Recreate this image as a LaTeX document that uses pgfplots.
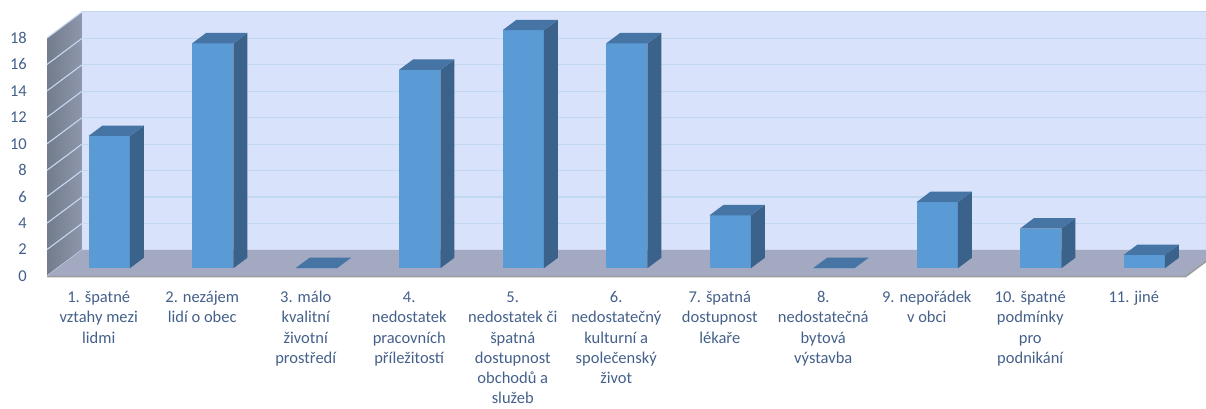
\documentclass[border=0pt]{standalone}
\usepackage{pgfplots}
\pgfplotsset{compat=1.18}
\usepackage{pgfplotstable}
\usepackage{fontspec}
\setmainfont{Carlito}
\definecolor{barfront}{HTML}{5B9BD5}
\definecolor{barside}{HTML}{3A628A}
\definecolor{bartop}{HTML}{4674A4}
\definecolor{backwall}{HTML}{D8E2FA}
\definecolor{gridc}{HTML}{C2D8EE}
\definecolor{sidegrid}{HTML}{C6D8EE}
\definecolor{floorc}{HTML}{A2A9C1}
\definecolor{sidewallL}{HTML}{737C8C}
\definecolor{sidewallR}{HTML}{8E96AC}
\definecolor{labelc}{HTML}{44608A}
\definecolor{edgec}{HTML}{9C9C9C}

\pgfplotstableread{
i v
0 10
1 17
2 0
3 15
4 18
5 17
6 4
7 0
8 5
9 3
10 1
}\datatable

\def\Dx{0.338}
\def\Dy{1.974}

\begin{document}
\begin{tikzpicture}
\useasboundingbox (0,0) rectangle (1206pt,409pt);
\begin{axis}[
  at={(47pt,133pt)}, anchor=south west,
  scale only axis, width=1159pt, height=264pt,
  xmin=0, xmax=11.198, ymin=0, ymax=19.97,
  clip=false,
  axis line style={draw=none},
  major tick length=0pt,
  ytick={0,2,...,18},
  xtick={0.5,1.5,2.5,3.5,4.5,5.5,6.5,7.5,8.5,9.5,10.5},
  xticklabels={
    {\strut 1. špatné\\vztahy mezi\\lidmi},
    {\strut 2. nezájem\\lidí o obec},
    {\strut 3. málo\\kvalitní\\životní\\prostředí},
    {\strut 4.\\nedostatek\\pracovních\\příležitostí},
    {\strut 5.\\nedostatek či\\špatná\\dostupnost\\obchodů a\\služeb},
    {\strut 6.\\nedostatečný\\kulturní a\\společenský\\život},
    {\strut 7. špatná\\dostupnost\\lékaře},
    {\strut 8.\\nedostatečná\\bytová\\výstavba},
    {\strut 9. nepořádek\\v obci},
    {\strut 10. špatné\\podmínky\\pro\\podnikání},
    {\strut 11. jiné}
  },
  tick label style={font=\fontsize{16.5}{20.3}\selectfont, text=labelc},
  yticklabel style={inner sep=0pt, anchor=east, xshift=-20pt},
  xticklabel style={inner sep=0pt, anchor=north, align=center, yshift=-12pt},
  /pgf/number format/assume math mode=true,
]
% back wall
\addplot[fill=backwall, draw=none] coordinates {(0.338,1.974) (12,1.974) (12,19.974) (0.338,19.974)};
% side wall
\addplot[left color=sidewallL, right color=sidewallR, draw=none] coordinates {(0,0) (0.338,1.974) (0.338,19.974) (0,18)};
% grid lines on back wall and side wall
\pgfplotsinvokeforeach{2,4,...,18}{
  \pgfmathsetmacro\gy{#1+\Dy}
  \edef\doplot{\noexpand\addplot[gridc, line width=1.1pt] coordinates {(\Dx,\gy) (12,\gy)};}
  \doplot
}
\pgfplotsinvokeforeach{0,2,...,18}{
  \pgfmathsetmacro\gy{#1+\Dy}
  \edef\doplot{\noexpand\addplot[sidegrid, line width=1.1pt] coordinates {(0,#1) (\Dx,\gy)};}
  \doplot
}
% floor
\addplot[fill=floorc, draw=none] coordinates {(0,0) (11,0) (11.338,1.974) (0.338,1.974)};
\addplot[edgec, line width=1.6pt] coordinates {(0,-0.05) (11,-0.05) (11.338,1.924)};
% bars
\pgfplotsinvokeforeach{0,...,10}{
  \pgfplotstablegetelem{#1}{v}\of\datatable
  \pgfmathsetmacro\bxl{#1+0.5-0.2+0.3*\Dx}
  \pgfmathsetmacro\bxr{\bxl+0.4}
  \pgfmathsetmacro\byb{0.3*\Dy}
  \pgfmathsetmacro\byt{\byb+\pgfplotsretval}
  \pgfmathsetmacro\bxrr{\bxr+0.4*\Dx}
  \pgfmathsetmacro\bxlr{\bxl+0.4*\Dx}
  \pgfmathsetmacro\bybr{\byb+0.4*\Dy}
  \pgfmathsetmacro\bytr{\byt+0.4*\Dy}
  \edef\doplot{%
    \noexpand\addplot[fill=barfront, draw=none] coordinates {(\bxl,\byb) (\bxr,\byb) (\bxr,\byt) (\bxl,\byt)};
    \noexpand\addplot[fill=barside, draw=none] coordinates {(\bxr,\byb) (\bxrr,\bybr) (\bxrr,\bytr) (\bxr,\byt)};
    \noexpand\addplot[fill=bartop, draw=none] coordinates {(\bxl,\byt) (\bxr,\byt) (\bxrr,\bytr) (\bxlr,\bytr)};
  }
  \doplot
}
\end{axis}
\end{tikzpicture}
\end{document}
